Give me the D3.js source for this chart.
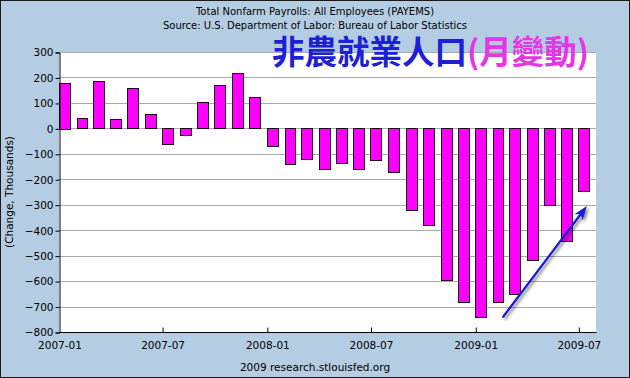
<!DOCTYPE html>
<html>
<head>
<meta charset="utf-8">
<script src="https://cdn.jsdelivr.net/npm/d3@7"></script>
<style>
  html, body { margin: 0; padding: 0; background: #fff; }
  svg { display: block; }
</style>
</head>
<body>
<svg id="chart" width="630" height="378"></svg>
<script>
// ---- data ----
const months = [
  "2007-01","2007-02","2007-03","2007-04","2007-05","2007-06","2007-07","2007-08","2007-09","2007-10","2007-11","2007-12",
  "2008-01","2008-02","2008-03","2008-04","2008-05","2008-06","2008-07","2008-08","2008-09","2008-10","2008-11","2008-12",
  "2009-01","2009-02","2009-03","2009-04","2009-05","2009-06","2009-07"
];
const changes = [
  180, 40, 185, 35, 157, 55, -63, -28, 102, 169, 216, 122,
  -71, -141, -122, -161, -137, -161, -126, -173, -322, -381, -597, -683,
  -742, -683, -652, -518, -302, -444, -247
];
const yTicks = [300, 200, 100, 0, -100, -200, -300, -400, -500, -600, -700, -800];
const xTickLabels = ["2007-01", "2007-07", "2008-01", "2008-07", "2009-01", "2009-07"];
const titleLines = [
  "Total Nonfarm Payrolls: All Employees (PAYEMS)",
  "Source: U.S. Department of Labor: Bureau of Labor Statistics"
];
const yLabel = "(Change, Thousands)";
const footer = "2009 research.stlouisfed.org";
const overlayBlue = "非農就業人口";
const overlayPink = "(月變動)";
// annotation arrow in data coords: [date, value]
const arrowFrom = ["2009-02-19", -740];
const arrowTo = ["2009-07-16", -305];

// ---- chart ----
const W = 630, H = 378;
const parse = d3.timeParse("%Y-%m");
const parseDay = d3.timeParse("%Y-%m-%d");
const svg = d3.select("#chart");

svg.append("rect").attr("x", 0.5).attr("y", 0.5).attr("width", W - 1).attr("height", H - 1)
  .attr("fill", "#b4cde3").attr("stroke", "#1a1a1a").attr("stroke-width", 1);

const plot = { left: 59, right: 596, top: 52, bottom: 332 };

const x = d3.scaleTime()
  .domain([parse("2007-01"), parse("2009-08")])
  .range([plot.left, plot.right]);
const y = d3.scaleLinear().domain([-800, 300]).range([plot.bottom, plot.top]);

svg.append("rect").attr("x", plot.left).attr("y", plot.top)
  .attr("width", plot.right - plot.left).attr("height", plot.bottom - plot.top)
  .attr("fill", "#ffffff");

// gridlines
svg.append("g").selectAll("line").data(yTicks.filter(v => v !== -800)).join("line")
  .attr("x1", plot.left).attr("x2", plot.right)
  .attr("y1", d => Math.round(y(d)) + 0.5).attr("y2", d => Math.round(y(d)) + 0.5)
  .attr("stroke", "#aaaaaa").attr("stroke-width", 1);

// bars
const data = months.map((m, i) => ({ date: parse(m), value: changes[i] }));
svg.append("g").selectAll("rect").data(data).join("rect")
  .attr("x", d => Math.round(x(d.date)) + 0.5)
  .attr("width", d => Math.round((x(d3.timeMonth.offset(d.date, 1)) - x(d.date)) * 0.63))
  .attr("y", d => Math.round(y(Math.max(0, d.value))) + 0.5)
  .attr("height", d => Math.round(Math.abs(y(d.value) - y(0))))
  .attr("fill", "#ff00ff").attr("stroke", "#220022").attr("stroke-width", 1);

// axes
const fontTick = "DejaVu Sans, Verdana, sans-serif";
const yAxis = d3.axisLeft(y).tickValues(yTicks).tickSize(4).tickPadding(2).tickFormat(d3.format("d"));
const gy = svg.append("g").attr("transform", `translate(${plot.left + 0.5},0.5)`).call(yAxis);
gy.select(".domain").attr("stroke", "#000");
gy.selectAll("line").attr("stroke", "#000");
gy.selectAll("text").attr("font-family", fontTick).attr("font-size", 10.5).attr("fill", "#000");

const xAxis = d3.axisBottom(x).tickValues(xTickLabels.map(parse)).tickSize(-5).tickPadding(9)
  .tickFormat(d3.timeFormat("%Y-%m"));
const gx = svg.append("g").attr("transform", `translate(0.5,${plot.bottom + 0.5})`).call(xAxis);
gx.select(".domain").attr("stroke", "#000").attr("d", `M${plot.left},0H${plot.right}`);
gx.selectAll("line").attr("stroke", "#000");
gx.selectAll(".tick").filter((d, i) => i === 0).select("line").remove();
gx.selectAll("text").attr("font-family", fontTick).attr("font-size", 10.5).attr("fill", "#000");

// titles
svg.selectAll(".title").data(titleLines).join("text").attr("class", "title")
  .attr("x", 315).attr("y", (d, i) => 15 + i * 14)
  .attr("text-anchor", "middle").attr("font-family", fontTick).attr("font-size", 10)
  .attr("fill", "#000").text(d => d);

svg.append("text").attr("transform", "translate(13,192) rotate(-90)")
  .attr("text-anchor", "middle").attr("font-family", fontTick).attr("font-size", 10.5)
  .attr("fill", "#000").text(yLabel);

svg.append("text").attr("x", 315).attr("y", 371).attr("text-anchor", "middle")
  .attr("font-family", fontTick).attr("font-size", 10.5).attr("fill", "#000").text(footer);

// overlay chinese title
const ov = svg.append("text").attr("x", 272).attr("y", 64)
  .attr("font-family", "'Noto Sans CJK TC', 'Noto Sans CJK SC', sans-serif")
  .attr("font-size", 32.5).attr("font-weight", "bold");
ov.append("tspan").attr("fill", "#1f1fd6").text(overlayBlue);
ov.append("tspan").attr("fill", "#e536e5").text(overlayPink);

// arrow annotation
const defs = svg.append("defs");
const f = defs.append("filter").attr("id", "sh").attr("x", "-20%").attr("y", "-20%").attr("width", "140%").attr("height", "140%");
f.append("feGaussianBlur").attr("in", "SourceAlpha").attr("stdDeviation", 1.5).attr("result", "b");
f.append("feOffset").attr("in", "b").attr("dx", 2).attr("dy", 2).attr("result", "o");
f.append("feComponentTransfer").attr("in", "o").attr("result", "o2")
  .append("feFuncA").attr("type", "linear").attr("slope", 0.5);
const fm = f.append("feMerge");
fm.append("feMergeNode").attr("in", "o2");
fm.append("feMergeNode").attr("in", "SourceGraphic");

const x1 = x(parseDay(arrowFrom[0])), y1 = y(arrowFrom[1]);
const x2 = x(parseDay(arrowTo[0])), y2 = y(arrowTo[1]);
const ang = Math.atan2(y2 - y1, x2 - x1);
const hl = 14, hw = 5;
const bx = x2 - hl * Math.cos(ang), by = y2 - hl * Math.sin(ang);
const ga = svg.append("g").attr("filter", "url(#sh)");
ga.append("line").attr("x1", x1).attr("y1", y1).attr("x2", bx + 3 * Math.cos(ang)).attr("y2", by + 3 * Math.sin(ang))
  .attr("stroke", "#1a1ad0").attr("stroke-width", 2.2).attr("stroke-linecap", "round");
ga.append("path").attr("d", `M${x2},${y2}L${bx - hw * Math.sin(ang)},${by + hw * Math.cos(ang)}L${bx + 4 * Math.cos(ang)},${by + 4 * Math.sin(ang)}L${bx + hw * Math.sin(ang)},${by - hw * Math.cos(ang)}Z`)
  .attr("fill", "#1a1ad0");
</script>
</body>
</html>
